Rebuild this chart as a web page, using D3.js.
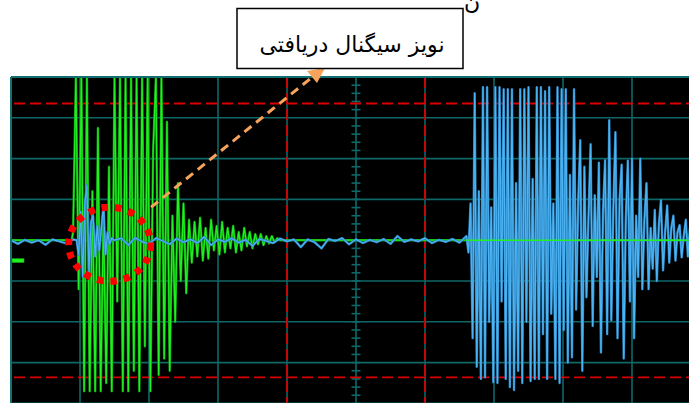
<!DOCTYPE html>
<html>
<head>
<meta charset="utf-8">
<script src="https://cdn.jsdelivr.net/npm/d3@7"></script>
<style>
  body { margin: 0; background: #fff; }
  svg { display: block; }
</style>
</head>
<body>
<svg id="chart" width="689" height="403"></svg>
<script>
// time in divisions (0..10), voltage in divisions (-4..4)
var label = "نویز سیگنال دریافتی";

var gridT = [0, 1, 2, 3, 4, 5, 6, 7, 8, 9, 10];
var gridV = [-4, -3, -2, -1, 0, 1, 2, 3, 4];
var cursorT = [4, 6];
var cursorV = [-3.36, 3.35];

// green channel burst, one sample every 0.04 div from t = 0.9
var greenStart = 0.9, greenStep = 0.04;
var greenBurst = [0.2, 4, -1.2, 4, -3.7, 4, -3.7, 1.2, -3.7, 2.75,
  -3.7, 0.6, -3.5, 1.8, -3.7, 4, -1.5, 4, -3.7, 4,
  -3.7, 4, -3.2, 4, -3.7, 4, -2.6, 4, -3.7, 2.2,
  4, -3.3, 4, -2.9, 2.9, -3.2, 0.6, -2.0, 1.4, -1.0,
  0.9, -1.3, 0.5, -0.55, 0.45, -0.4, 0.55, -0.5, 0.3, -0.45,
  0.5, -0.25, 0.35, -0.35, 0.45, -0.3, 0.3, -0.2, 0.35, -0.3,
  0.2, -0.25, 0.3, -0.15, 0.2, -0.2, 0.15, -0.1, 0.15, -0.12,
  0.1, -0.08, 0.1, -0.05, 0.05, 0];

// blue channel baseline noise, one sample every 0.1 div from t = 0
var blueNoiseStep = 0.1;
var blueNoise = [0, -0.09, 0.01, -0.06, 0, -0.11, 0.02, -0.03, -0.08, 0.02,
  0, 0, 0, 0, 0, 0, 0.05, -0.12, 0.06, -0.04,
  -0.09, 0.05, -0.02, -0.1, 0.04, -0.05, 0.02, -0.07, 0.08, -0.12,
  0.02, -0.04, 0.05, -0.06, 0.01, -0.14, 0.03, -0.02, -0.07, 0.04,
  -0.03, 0.02, -0.17, 0.02, -0.05, -0.2, 0.03, -0.02, 0.05, -0.1,
  0.02, -0.07, 0.01, -0.05, 0.03, -0.09, 0.1, -0.04, 0.02, -0.03,
  0.05, -0.07, 0.01, -0.04, 0.03, -0.06, 0.03];

// small blue wobble inside the circle, every 0.03 div from t = 0.95
var blueSmallStart = 0.95, blueSmallStep = 0.03;
var blueSmall = [0, -0.35, 0.7, -0.9, 0.9, 1.35, -0.8, 0.45, 0.6, -0.4,
  0.35, -0.25, 0.3, 0.86, -0.35, 0.2, -0.1, 0.05, 0];

// blue channel received signal, every 0.03 div from t = 6.6
var blueStart = 6.6, blueStep = 0.03;
var blueBurst = [0.1, -0.3, 0.9, -2.4, 3.6, -3.1, 1.2, -3.4, 3.75, -3.36,
  3.75, -2.0, 0.8, -3.48, 3.75, -3.5, 3.75, -1.5, 3.7, -3.4,
  3.7, -3.6, 3.7, -3.67, 1.4, -3.2, 3.7, -3.5, 3.7, -2.0,
  3.75, -3.45, 1.5, -3.4, 3.75, -3.4, 3.75, -2.3, 3.65, -3.4,
  3.75, -1.8, 0.9, -3.4, 3.75, -3.5, 3.7, -2.2, 3.7, -3.0,
  1.6, -2.87, 3.7, -1.7, 0.9, 2.45, -3.2, 1.8, -1.4, 0.6,
  2.35, -2.1, 1.1, -0.9, 1.9, -2.75, 0.7, 1.96, -2.3, 2.94,
  -1.96, 0.8, 2.65, -2.4, 1.0, 1.85, -2.9, 0.5, 1.95, -1.5,
  2.0, -2.4, 0.6, -0.9, 2.0, -1.2, 0.5, 1.4, -1.2, 0.3,
  -0.7, 0.74, -1.0, 0.4, 0.98, -0.74, 0.2, 0.85, -0.55, 0.3,
  0.6, -0.5, 0.2, 0.37, -0.42, 0.1, 0.5, -0.4, 0.3];

const svg = d3.select("#chart");
const x = d3.scaleLinear().domain([0, 10]).range([11, 701]);
const y = d3.scaleLinear().domain([-4, 4]).range([403.4, 77]);

function series(start, step, vals) {
  return vals.map((v, i) => [start + i * step, v]);
}

let greenPts = series(greenStart, greenStep, greenBurst);
greenPts = [[0, 0], [greenStart - 0.02, 0]].concat(greenPts, [[10, 0]]);
let blueSmallPts = series(blueSmallStart, blueSmallStep, blueSmall);
let blueBurstPts = series(blueStart, blueStep, blueBurst);
let smallEnd = blueSmallStart + (blueSmall.length - 1) * blueSmallStep;
let noisePts = series(0, blueNoiseStep, blueNoise)
  .filter(d => (d[0] < blueSmallStart || d[0] > smallEnd) && d[0] < blueStart);
let bluePts = noisePts.concat(blueSmallPts, blueBurstPts).sort((a, b) => a[0] - b[0]);

svg.append("defs").append("clipPath").attr("id", "scope")
  .append("rect")
  .attr("x", x(0)).attr("y", y(4))
  .attr("width", 689 - x(0)).attr("height", 403 - y(4));

// screen
svg.append("rect")
  .attr("x", x(0)).attr("y", y(4))
  .attr("width", 689 - x(0)).attr("height", 403 - y(4))
  .attr("fill", "#000");

const grid = svg.append("g").attr("clip-path", "url(#scope)")
  .attr("stroke", "#0f6767").attr("stroke-width", 1.6);
grid.selectAll(".vg").data(gridT).enter().append("line")
  .attr("x1", d => x(d)).attr("x2", d => x(d))
  .attr("y1", y(4)).attr("y2", y(-4));
grid.selectAll(".hg").data(gridV).enter().append("line")
  .attr("y1", d => y(d)).attr("y2", d => y(d))
  .attr("x1", x(0)).attr("x2", x(10));

// minor ticks on the centre vertical line
grid.selectAll(".tk").data(d3.range(-4, 4.01, 0.2)).enter().append("line")
  .attr("x1", x(5) - 4.5).attr("x2", x(5) + 4.5)
  .attr("y1", d => y(d)).attr("y2", d => y(d));

// cursors
const cur = svg.append("g").attr("clip-path", "url(#scope)")
  .attr("stroke", "#d80000").attr("stroke-width", 1.8)
  .attr("stroke-dasharray", "11,5");
cur.selectAll(".cv").data(cursorV).enter().append("line")
  .attr("y1", d => y(d)).attr("y2", d => y(d))
  .attr("x1", x(0) + 3).attr("x2", x(10));
cur.selectAll(".ct").data(cursorT).enter().append("line")
  .attr("x1", d => x(d)).attr("x2", d => x(d))
  .attr("y1", y(4)).attr("y2", y(-4));

const line = d3.line().x(d => x(d[0])).y(d => y(d[1]));
const traces = svg.append("g").attr("clip-path", "url(#scope)")
  .attr("fill", "none").attr("stroke-linejoin", "round");

traces.append("path").datum(greenPts).attr("d", line)
  .attr("stroke", "#0a9a0a").attr("stroke-width", 2.4);
traces.append("path").datum(greenPts).attr("d", line)
  .attr("stroke", "#22f022").attr("stroke-width", 1.2);
traces.append("path").datum(bluePts).attr("d", line)
  .attr("stroke", "#2a7fb8").attr("stroke-width", 2.4);
traces.append("path").datum(bluePts).attr("d", line)
  .attr("stroke", "#4cb4f4").attr("stroke-width", 1.2);
traces.append("path").datum([[blueStart, 0], [10, 0]]).attr("d", line)
  .attr("stroke", "#22f022").attr("stroke-width", 1.4);

// channel ground marker
svg.append("rect")
  .attr("x", x(0) + 1).attr("y", y(-0.5) - 2)
  .attr("width", 12).attr("height", 4)
  .attr("fill", "#22f022").attr("stroke", "#0a9a0a").attr("stroke-width", 0.6);

// border
svg.append("line").attr("x1", x(0)).attr("x2", 689).attr("y1", y(4)).attr("y2", y(4))
  .attr("stroke", "#137070").attr("stroke-width", 2);
svg.append("line").attr("x1", x(0)).attr("x2", x(0)).attr("y1", y(4)).attr("y2", 403)
  .attr("stroke", "#137070").attr("stroke-width", 2);

// red dotted circle around the noise
svg.append("ellipse")
  .attr("cx", x(1.43)).attr("cy", y(-0.1))
  .attr("rx", 41).attr("ry", 37)
  .attr("fill", "none").attr("stroke", "#ff0000")
  .attr("stroke-width", 7).attr("stroke-dasharray", "6.5,7");

// orange dashed pointer
const ax1 = x(1.45) + 40, ay1 = y(-0.1) - 37;
const ax2 = 313, ay2 = 76.5;
svg.append("line")
  .attr("x1", ax1).attr("y1", ay1).attr("x2", ax2).attr("y2", ay2)
  .attr("stroke", "#f7a35c").attr("stroke-width", 3)
  .attr("stroke-dasharray", "9,6");
svg.append("path")
  .attr("d", "M325,68 L317,83 L307,71 Z")
  .attr("fill", "#f7a35c");

// label box
svg.append("rect")
  .attr("x", 237).attr("y", 8.5).attr("width", 226).attr("height", 60)
  .attr("fill", "#fff").attr("stroke", "#000").attr("stroke-width", 1.5);
svg.append("text")
  .attr("x", 352).attr("y", 52)
  .attr("text-anchor", "middle").attr("direction", "rtl")
  .attr("font-family", "DejaVu Sans, Noto Sans, sans-serif")
  .attr("font-size", 22)
  .text(label);

// fragment of a line above, mostly cut off by the page edge
svg.append("text")
  .attr("x", 472).attr("y", 9)
  .attr("text-anchor", "middle")
  .attr("font-family", "DejaVu Sans, sans-serif")
  .attr("font-size", 22)
  .text("ن");
</script>
</body>
</html>
